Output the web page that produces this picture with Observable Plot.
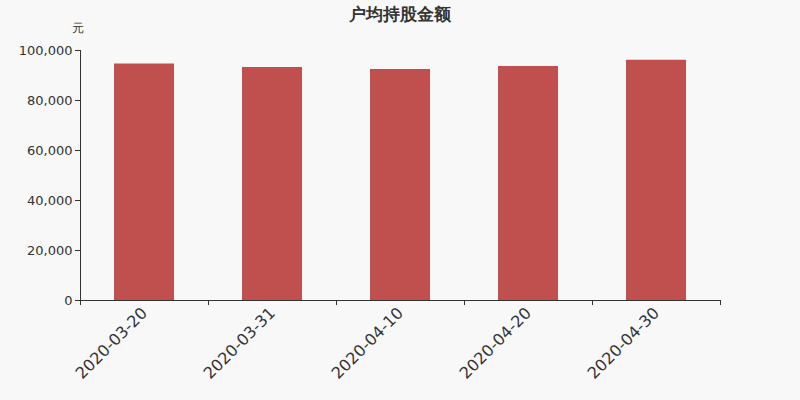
<!DOCTYPE html>
<html><head><meta charset="utf-8">
<script src="https://cdn.jsdelivr.net/npm/d3@7"></script>
<script src="https://cdn.jsdelivr.net/npm/@observablehq/plot@0.6"></script>
<style>
body{margin:0;background:#f8f8f8;font-family:"DejaVu Sans",sans-serif;}
#title{height:15px;line-height:28px;text-align:center;font-size:17px;font-weight:bold;color:#333;position:relative;z-index:1;}
</style></head>
<body>
<div id="title">户均持股金额</div>
<div id="chart"></div>
<script>
const dates = ["2020-03-20","2020-03-31","2020-04-10","2020-04-20","2020-04-30"];
const values = [94600, 93200, 92400, 93600, 96100];
const yTicks = [0, 20000, 40000, 60000, 80000, 100000];
const unit = "元";
const data = dates.map((d, i) => ({date: d, value: values[i]}));
const fmt = d3.format(",");
const chart = Plot.plot({
  width: 800, height: 385,
  marginTop: 35, marginBottom: 100, marginLeft: 80, marginRight: 80,
  style: {background: "transparent", fontFamily: "DejaVu Sans, sans-serif", color: "#333"},
  x: {domain: dates, paddingInner: 0.53, paddingOuter: 0.265, label: null},
  y: {domain: [0, 100000], label: null},
  marks: [
    Plot.barY(data, {x: "date", y: "value", fill: "#c0504d"}),
    Plot.frame({anchor: "left", stroke: "#333"}),
    Plot.frame({anchor: "bottom", stroke: "#333"}),
    Plot.axisY({ticks: yTicks, tickFormat: fmt, tickSize: 5, tickPadding: 3, fontSize: 13, label: null, stroke: "#333"}),
    Plot.axisX({ticks: dates, tickSize: 5, tickFormat: () => "", dx: -64, label: null, stroke: "#333"}),
    Plot.axisX({ticks: dates.slice(-1), tickSize: 5, tickFormat: () => "", dx: 64, label: null, stroke: "#333"}),
    Plot.axisX({ticks: dates, tickSize: 0, tickPadding: 10, tickRotate: -45, fontSize: 16, label: null}),
    Plot.text([unit], {frameAnchor: "top-left", dx: -9, dy: -27, fontSize: 12, fill: "#333"})
  ]
});
document.getElementById("chart").appendChild(chart);
</script>
</body></html>
